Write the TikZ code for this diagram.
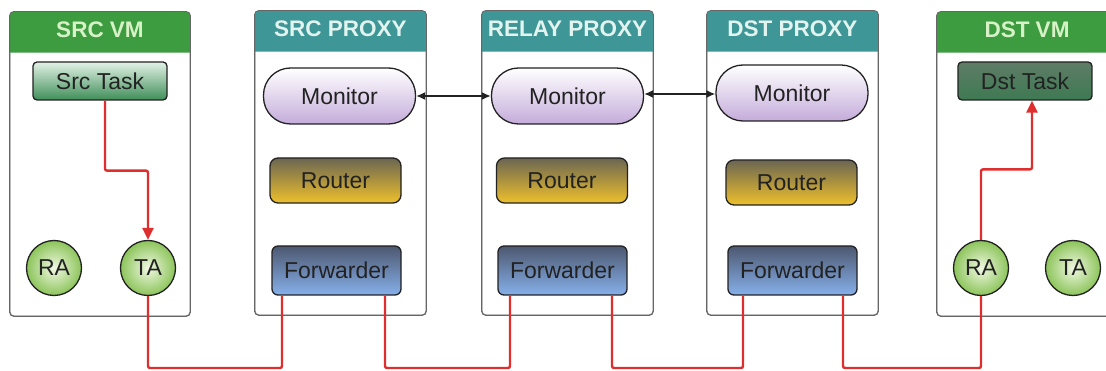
\documentclass[tikz,border=0pt]{standalone}
\usepackage{fontspec}
\setmainfont{Liberation Sans}
\usetikzlibrary{arrows.meta,calc}

\definecolor{vmgreen}{HTML}{3D9B40}
\definecolor{vmtext}{HTML}{D6F2C6}
\definecolor{pxteal}{HTML}{3F9696}
\definecolor{pxtext}{HTML}{E2F4F0}
\definecolor{frameln}{HTML}{666666}
\definecolor{inkdark}{HTML}{222222}
\definecolor{wire}{HTML}{DF2E2E}
\definecolor{taskTop}{HTML}{E2F2E6}
\definecolor{taskBot}{HTML}{3F8E58}
\definecolor{dtaskTop}{HTML}{5E7C67}
\definecolor{dtaskBot}{HTML}{3E7A52}
\definecolor{monTop}{HTML}{FFFFFF}
\definecolor{monBot}{HTML}{C4ACDA}
\definecolor{rtTop}{HTML}{6B6652}
\definecolor{rtBot}{HTML}{EEC02C}
\definecolor{fwTop}{HTML}{4D5870}
\definecolor{fwBot}{HTML}{86B0EA}
\definecolor{agIn}{HTML}{F0F8E2}
\definecolor{agOut}{HTML}{8CC45A}

\tikzset{
  frame/.style={draw=frameln, line width=0.8pt, fill=white, rounded corners=4pt,
    minimum width=#1, minimum height=304pt, inner sep=0pt},
  frame/.default=171pt,
  hdrtext/.style={font=\fontsize{22.5}{25}\selectfont\bfseries, inner sep=0pt},
  part/.style={draw=inkdark, line width=1.3pt, text=inkdark, inner sep=0pt,
    font=\fontsize{23}{26}\selectfont},
  task/.style={part, rounded corners=4pt, minimum width=134pt, minimum height=38pt},
  monitor/.style={part, rounded corners=27pt, minimum width=152pt, minimum height=56pt,
    top color=monTop, bottom color=monBot},
  router/.style={part, rounded corners=8pt, minimum width=131pt, minimum height=45pt,
    top color=rtTop, bottom color=rtBot},
  forwarder/.style={part, rounded corners=6pt, minimum width=129pt, minimum height=49pt,
    top color=fwTop, bottom color=fwBot},
  agent/.style={part, circle, minimum size=55pt, inner color=agIn, outer color=agOut},
  wireline/.style={draw=wire, line width=2.4pt, rounded corners=2pt},
  wirearrow/.style={wireline, -{Triangle[length=12pt,width=11pt]}},
  ctrl/.style={draw=inkdark, line width=1.6pt,
    {Latex[length=9pt,width=8pt]}-{Latex[length=9pt,width=8pt]}},
}

\begin{document}
\begin{tikzpicture}[x=1pt,y=-1pt]
\useasboundingbox (0,0) rectangle (1106,371);
\clip (0,0) rectangle (1106,371);

% host and proxy frames
\node[frame=180pt] (srcvm) at (100,164) {};
\node[frame] (srcpx) at (340.5,163) {};
\node[frame] (relaypx) at (567.5,163) {};
\node[frame] (dstpx) at (792.5,163) {};
\node[frame=180pt] (dstvm) at (1027,164) {};

% coloured title bars, rounded on top only
\foreach \n/\c/\tc/\t in {srcvm/vmgreen/vmtext/SRC VM, srcpx/pxteal/pxtext/SRC PROXY,
    relaypx/pxteal/pxtext/RELAY PROXY, dstpx/pxteal/pxtext/DST PROXY, dstvm/vmgreen/vmtext/DST VM}{
  \fill[\c] ([yshift=-41pt]\n.north west) {[rounded corners=4pt] -- (\n.north west) -- (\n.north east)}
    -- ([yshift=-41pt]\n.north east) -- cycle;
  \draw[frameln, line width=0.8pt, rounded corners=4pt] (\n.south west) rectangle (\n.north east);
  \node[hdrtext, text=\tc] (\n-title) at ([yshift=-18.5pt]\n.north) {\t};
}

% tasks and agents inside the VMs
\node[task, top color=taskTop, bottom color=taskBot] (srctask) at (100,81) {Src Task};
\node[task, top color=dtaskTop, bottom color=dtaskBot] (dsttask) at (1025,81) {Dst Task};
\node[agent] (ras) at (54,268) {RA};
\node[agent] (tas) at (148,268) {TA};
\node[agent] (rad) at (981,268) {RA};
\node[agent] (tad) at (1073,268) {TA};

% proxy components
\node[monitor] (msrc) at (339.5,96) {Monitor};
\node[monitor] (mrelay) at (567.5,96) {Monitor};
\node[monitor] (mdst) at (792,93) {Monitor};
\node[router] (rsrc) at (335.5,180.5) {Router};
\node[router] (rrelay) at (562,180.5) {Router};
\node[router] (rdst) at (791.5,182.5) {Router};
\node[forwarder] (fsrc) at (336.5,270.5) {Forwarder};
\node[forwarder] (frelay) at (562.5,270.5) {Forwarder};
\node[forwarder] (fdst) at (792.5,270.5) {Forwarder};

% monitor links
\draw[ctrl] (msrc.east) -- (msrc.east -| mrelay.west);
\draw[ctrl] ([yshift=2pt]mrelay.east) -- ([yshift=2pt]mrelay.east -| mdst.west);

% data path
\coordinate (bus) at (0,368);
\coordinate (fs1) at ([xshift=-54.5pt]fsrc.south);
\coordinate (fs2) at ([xshift=48.5pt]fsrc.south);
\coordinate (fr1) at ([xshift=-52.5pt]frelay.south);
\coordinate (fr2) at ([xshift=49.5pt]frelay.south);
\coordinate (fd1) at ([xshift=-49.5pt]fdst.south);
\coordinate (fd2) at ([xshift=50.5pt]fdst.south);

\draw[wirearrow] ([xshift=5pt]srctask.south) -- ++(0,70) -| (tas.north);
\draw[wireline] (tas.south) -- (tas.south |- bus) -| (fs1);
\draw[wireline] (fs2) -- (fs2 |- bus) -| (fr1);
\draw[wireline] (fr2) -- (fr2 |- bus) -| (fd1);
\draw[wireline] (fd2) -- (fd2 |- bus) -| (rad.south);
\draw[wirearrow] (rad.north) -- ++(0,-70.5) -| ([xshift=7pt]dsttask.south);
\end{tikzpicture}
\end{document}
